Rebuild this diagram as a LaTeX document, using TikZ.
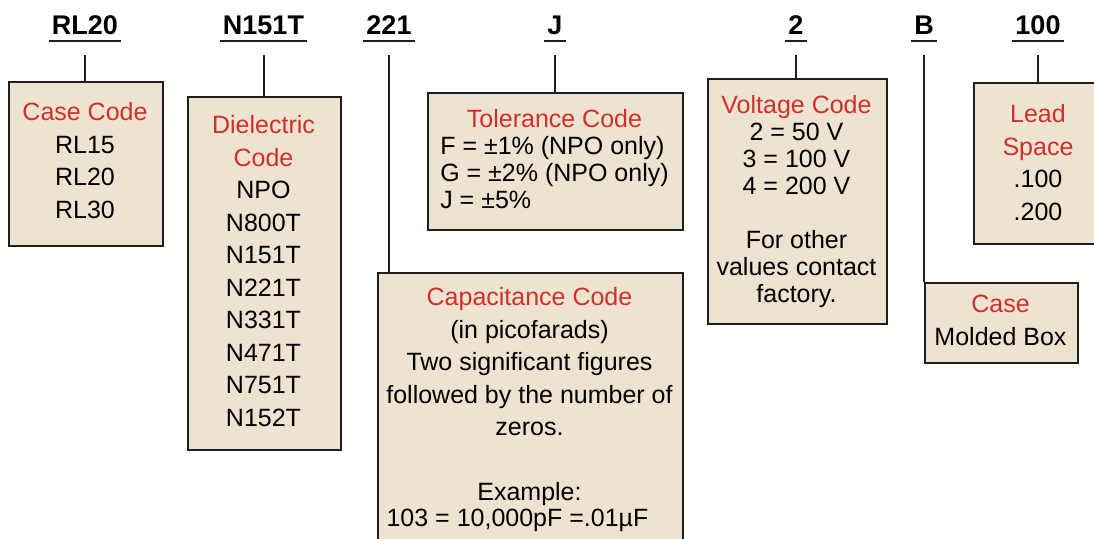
\documentclass[tikz,border=0pt]{standalone}
\usepackage{fontspec}
\setmainfont{Liberation Sans}
\definecolor{boxfill}{HTML}{EDE3D0}
\definecolor{titlered}{HTML}{D0302A}
\definecolor{linegray}{HTML}{1E1E1E}
\newcommand{\ttl}[1]{\textcolor{titlered}{#1}}

\begin{document}
\begin{tikzpicture}[x=0.5pt, y=-0.5pt,
    hdr/.style={anchor=base, inner xsep=1.5pt, inner ysep=0pt, font=\fontsize{13.5pt}{16pt}\selectfont\bfseries},
    uline/.style={line width=1pt, draw=linegray},
    wire/.style={line width=1pt, draw=linegray},
    box/.style={draw=linegray, line width=1pt, fill=boxfill, anchor=north west, inner sep=0pt},
    txt/.style={anchor=north, align=center, inner sep=0pt, font=\fontsize{12.5pt}{16.25pt}\selectfont},
    tighttxt/.style={font=\fontsize{12.5pt}{13.5pt}\selectfont}]

    \useasboundingbox (0,0) rectangle (1094,538);
    \clip (0,0) rectangle (1094,538);

    % part number fields
    \node[hdr] (rl)     at (85,34)    {RL20};
    \node[hdr] (diel-h) at (263.5,34) {N151T};
    \node[hdr] (cap-h)  at (389,34)   {221};
    \node[hdr] (tol-h)  at (555,34)   {J};
    \node[hdr] (volt-h) at (796,34)   {2};
    \node[hdr] (mold-h) at (924,34)   {B};
    \node[hdr] (lead-h) at (1038,34)  {100};
    \foreach \h in {rl,diel-h,cap-h,tol-h,volt-h,mold-h,lead-h}
        \draw[uline] ([yshift=-3.5pt]\h.base west) -- ([yshift=-3.5pt]\h.base east);

    % code boxes
    \node[box, minimum width=77pt,    minimum height=82pt]    (case) at (8,81)    {};
    \node[box, minimum width=76.5pt,  minimum height=176.5pt] (diel) at (187,96)  {};
    \node[box, minimum width=152.5pt, minimum height=150pt]   (cap)  at (377,272) {};
    \node[box, minimum width=127.5pt, minimum height=68.5pt]  (tol)  at (427,92)  {};
    \node[box, minimum width=89.5pt,  minimum height=122.5pt] (volt) at (707,78)  {};
    \node[box, minimum width=76.5pt,  minimum height=40pt]    (mold) at (924,282) {};
    \node[box, minimum width=70pt,    minimum height=80.5pt]  (lead) at (973,82)  {};

    % leaders from the fields down to their boxes
    \foreach \h/\b in {rl/case,diel-h/diel,cap-h/cap,tol-h/tol,volt-h/volt,mold-h/mold,lead-h/lead}
        \draw[wire] ([yshift=-10.5pt]\h.base) -- (\h.base |- \b.north);

    % box texts
    \node[txt] (case-t) at (85,102) {\ttl{Case Code}\\RL15\\RL20\\RL30};
    \node[txt] (diel-t) at (263.5,115) {\ttl{Dielectric}\\\ttl{Code}\\NPO\\N800T\\N151T\\N221T\\N331T\\N471T\\N751T\\N152T};
    \node[txt] (cap-t) at (529.5,287) {\ttl{Capacitance Code}\\(in picofarads)\\Two significant figures\\followed by the number of\\zeros.\\[16.25pt]Example:\\[-3.5pt]103 = 10,000pF =.01µF\hspace*{12pt}};
    \node[txt, tighttxt, anchor=base] (tol-t) at (554.5,127) {\begin{tabular}[t]{@{}l@{}}\multicolumn{1}{@{}c@{}}{\ttl{Tolerance Code}}\\F = ±1\% (NPO only)\\G = ±2\% (NPO only)\\J = ±5\%\end{tabular}};
    \node[txt, tighttxt] (volt-t) at (796.5,95) {\ttl{Voltage Code}\\2 = 50 V\\3 = 100 V\\4 = 200 V\\[13.5pt]For other\\values contact\\factory.};
    \node[txt] (lead-t) at (1038,104) {\ttl{Lead}\\\ttl{Space}\\.100\\.200};
    \node[txt] (mold-t) at (1000.5,295) {\ttl{Case}\\Molded Box};
\end{tikzpicture}
\end{document}
